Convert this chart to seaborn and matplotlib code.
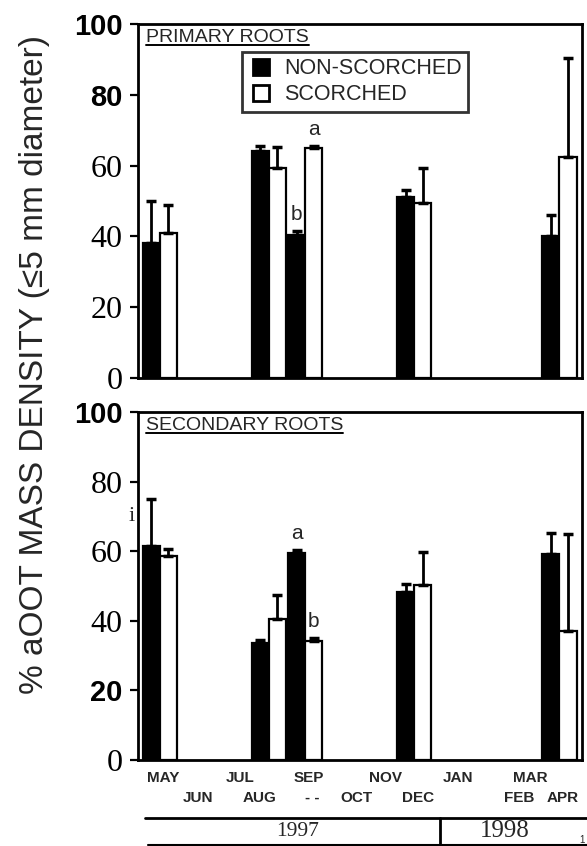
import matplotlib
matplotlib.use("Agg")
import matplotlib.pyplot as plt
import matplotlib.lines as mlines
import seaborn as sns
import pandas as pd

# ---------------- data ----------------
months = ["MAY", "JUN", "JUL", "AUG", "SEP", "OCT", "NOV", "DEC", "JAN", "FEB", "MAR", "APR"]
sample_months = ["MAY", "AUG", "SEP", "DEC", "APR"]
treatments = ["NON-SCORCHED", "SCORCHED"]

primary_non = [38, 64, 40.4, 51, 40]
primary_non_err = [12, 1.5, 1.1, 2, 6]
primary_sc = [41, 59.3, 65, 49.4, 62.4]
primary_sc_err = [8, 6, 0.6, 10, 28]

secondary_non = [61.5, 33.6, 59.5, 48.3, 59.2]
secondary_non_err = [13.5, 0.9, 0.9, 2.3, 6]
secondary_sc = [58.6, 40.5, 34.2, 50.3, 37]
secondary_sc_err = [2, 7, 0.8, 9.5, 28]

panel_titles = ["PRIMARY ROOTS", "SECONDARY ROOTS"]
sig_top = [("SEP", "NON-SCORCHED", "b"), ("SEP", "SCORCHED", "a")]
sig_bottom = [("SEP", "NON-SCORCHED", "a"), ("SEP", "SCORCHED", "b")]
month_labels_top = ["MAY", "JUL", "SEP", "NOV", "JAN", "MAR"]
month_labels_bottom = ["JUN", "AUG", "- -", "OCT", "DEC", "FEB", "APR"]
years = ["1997", "1998"]
yticks = [0, 20, 40, 60, 80, 100]
ylabel = "% aOOT MASS DENSITY (\u22645 mm diameter)"


def make_df(non, non_err, sc, sc_err):
    rows = []
    for m, v, e in zip(sample_months, non, non_err):
        rows.append(dict(month=m, treatment=treatments[0], value=v, err=e))
    for m, v, e in zip(sample_months, sc, sc_err):
        rows.append(dict(month=m, treatment=treatments[1], value=v, err=e))
    return pd.DataFrame(rows)


df_primary = make_df(primary_non, primary_non_err, primary_sc, primary_sc_err)
df_secondary = make_df(secondary_non, secondary_non_err, secondary_sc, secondary_sc_err)

# ---------------- style ----------------
sns.set_style("ticks")
plt.rcParams["font.family"] = ["Liberation Sans", "DejaVu Sans"]
SERIF = ["Liberation Serif", "DejaVu Serif"]
SANS = ["Liberation Sans", "DejaVu Sans"]

fig = plt.figure(figsize=(5.87, 8.46), dpi=100)
L, R = 138 / 587, 582 / 587
ax1 = fig.add_axes([L, 1 - 378 / 846, R - L, (378 - 24) / 846])
ax2 = fig.add_axes([L, 1 - 760 / 846, R - L, (760 - 412) / 846])


def draw_panel(ax, df, title, sigs, tick_styles):
    sns.barplot(data=df, x="month", y="value", hue="treatment", order=months,
                hue_order=treatments, palette=["black", "white"], edgecolor="black",
                linewidth=1.6, width=0.94, errorbar=None, ax=ax, legend=False,
                saturation=1)
    lookup = {(r.month, r.treatment): (r.value, r.err) for r in df.itertuples()}
    centers = {}
    for tr, cont in zip(treatments, ax.containers):
        for bar in cont:
            xc = bar.get_x() + bar.get_width() / 2
            m = months[int(round(xc))]
            if (m, tr) not in lookup:
                continue
            v, e = lookup[(m, tr)]
            centers[(m, tr)] = xc
            ax.errorbar([xc], [v], yerr=[[0], [e]], fmt="none", ecolor="black",
                        elinewidth=2, capsize=3.5, capthick=2.5, zorder=3)
    for m, tr, letter in sigs:
        v, e = lookup[(m, tr)]
        ax.text(centers[(m, tr)], v + e + 2, letter, ha="center", va="bottom",
                fontsize=15, family=SANS)
    ax.set_xlim(-0.6, 11.62)
    ax.set_ylim(0, 100)
    ax.set_xlabel("")
    ax.set_ylabel("")
    ax.set_xticks([])
    ax.set_yticks(yticks)
    ax.set_yticklabels([str(t) for t in yticks])
    for lab, st in zip(ax.get_yticklabels(), tick_styles):
        if st == "serif":
            lab.set_family(SERIF)
            lab.set_fontsize(23)
        else:
            lab.set_family(SANS)
            lab.set_fontsize(21)
            lab.set_fontweight("bold")
    ax.tick_params(axis="y", direction="out", length=6, width=1.6, pad=5, colors="black")
    for sp in ax.spines.values():
        sp.set_visible(True)
        sp.set_linewidth(2)
        sp.set_color("black")
    t = ax.text(0.018, 0.987, title, transform=ax.transAxes, ha="left", va="top",
                fontsize=14, family=SANS)
    return t


t1 = draw_panel(ax1, df_primary, panel_titles[0], sig_top,
                ["serif", "serif", "serif", "serif", "sans", "sans"])
t2 = draw_panel(ax2, df_secondary, panel_titles[1], sig_bottom,
                ["serif", "sans", "serif", "serif", "serif", "sans"])

# legend
handles = [mlines.Line2D([], [], marker="s", linestyle="none", markersize=12,
                         markerfacecolor=c, markeredgecolor="black", markeredgewidth=2)
           for c in ["black", "white"]]
leg = ax1.legend(handles, treatments, loc="upper left", bbox_to_anchor=(0.234, 0.922),
                 borderaxespad=0, frameon=True, fancybox=False, fontsize=15.5,
                 handletextpad=0.45, borderpad=0.3, labelspacing=0.25, handlelength=1.2)
leg.get_frame().set_edgecolor("black")
leg.get_frame().set_linewidth(2)

# stray "i" in lower panel
ax2.text(-0.78, 70, "i", fontsize=16, family=SERIF, ha="center", va="center")

# month labels (two staggered rows)
top_pos = [0.08, 2.2, 4.1, 6.2, 8.2, 10.2]
bot_pos = [1.04, 2.75, 4.2, 5.4, 7.1, 9.9, 11.1]
for lab, x in zip(month_labels_top, top_pos):
    ax2.text(x, -0.052, lab, transform=ax2.get_xaxis_transform(), ha="center",
             va="center", fontsize=11, fontweight="bold", family=SANS)
for lab, x in zip(month_labels_bottom, bot_pos):
    ax2.text(x, -0.108, lab, transform=ax2.get_xaxis_transform(), ha="center",
             va="center", fontsize=11, fontweight="bold", family=SANS)

# year bar
fig.add_artist(mlines.Line2D([145 / 587, 1.0], [1 - 818 / 846] * 2, color="black", lw=2))
fig.add_artist(mlines.Line2D([148 / 587, 1.0], [1 - 845 / 846] * 2, color="black", lw=1.5))
fig.add_artist(mlines.Line2D([440 / 587] * 2, [1 - 818 / 846, 0], color="black", lw=2))
fig.text(298 / 587, 1 - 831 / 846, years[0], ha="center", va="center", fontsize=15.5, family=SERIF)
fig.text(505 / 587, 1 - 831 / 846, years[1], ha="center", va="center", fontsize=18, family=SERIF)
fig.text(582 / 587, 1 - 840 / 846, "1", ha="center", va="center", fontsize=7, family=SANS)

# y label
fig.text(35 / 587, 1 - 365 / 846, ylabel, rotation=90, ha="center", va="center",
         fontsize=24, family=SANS)

# underline panel titles
fig.canvas.draw()
renderer = fig.canvas.get_renderer()
for t in (t1, t2):
    bb = t.get_window_extent(renderer).transformed(fig.transFigure.inverted())
    fig.add_artist(mlines.Line2D([bb.x0, bb.x1], [bb.y0 + 0.001] * 2, color="black", lw=1.4))

fig.savefig("out.png", dpi=100)
